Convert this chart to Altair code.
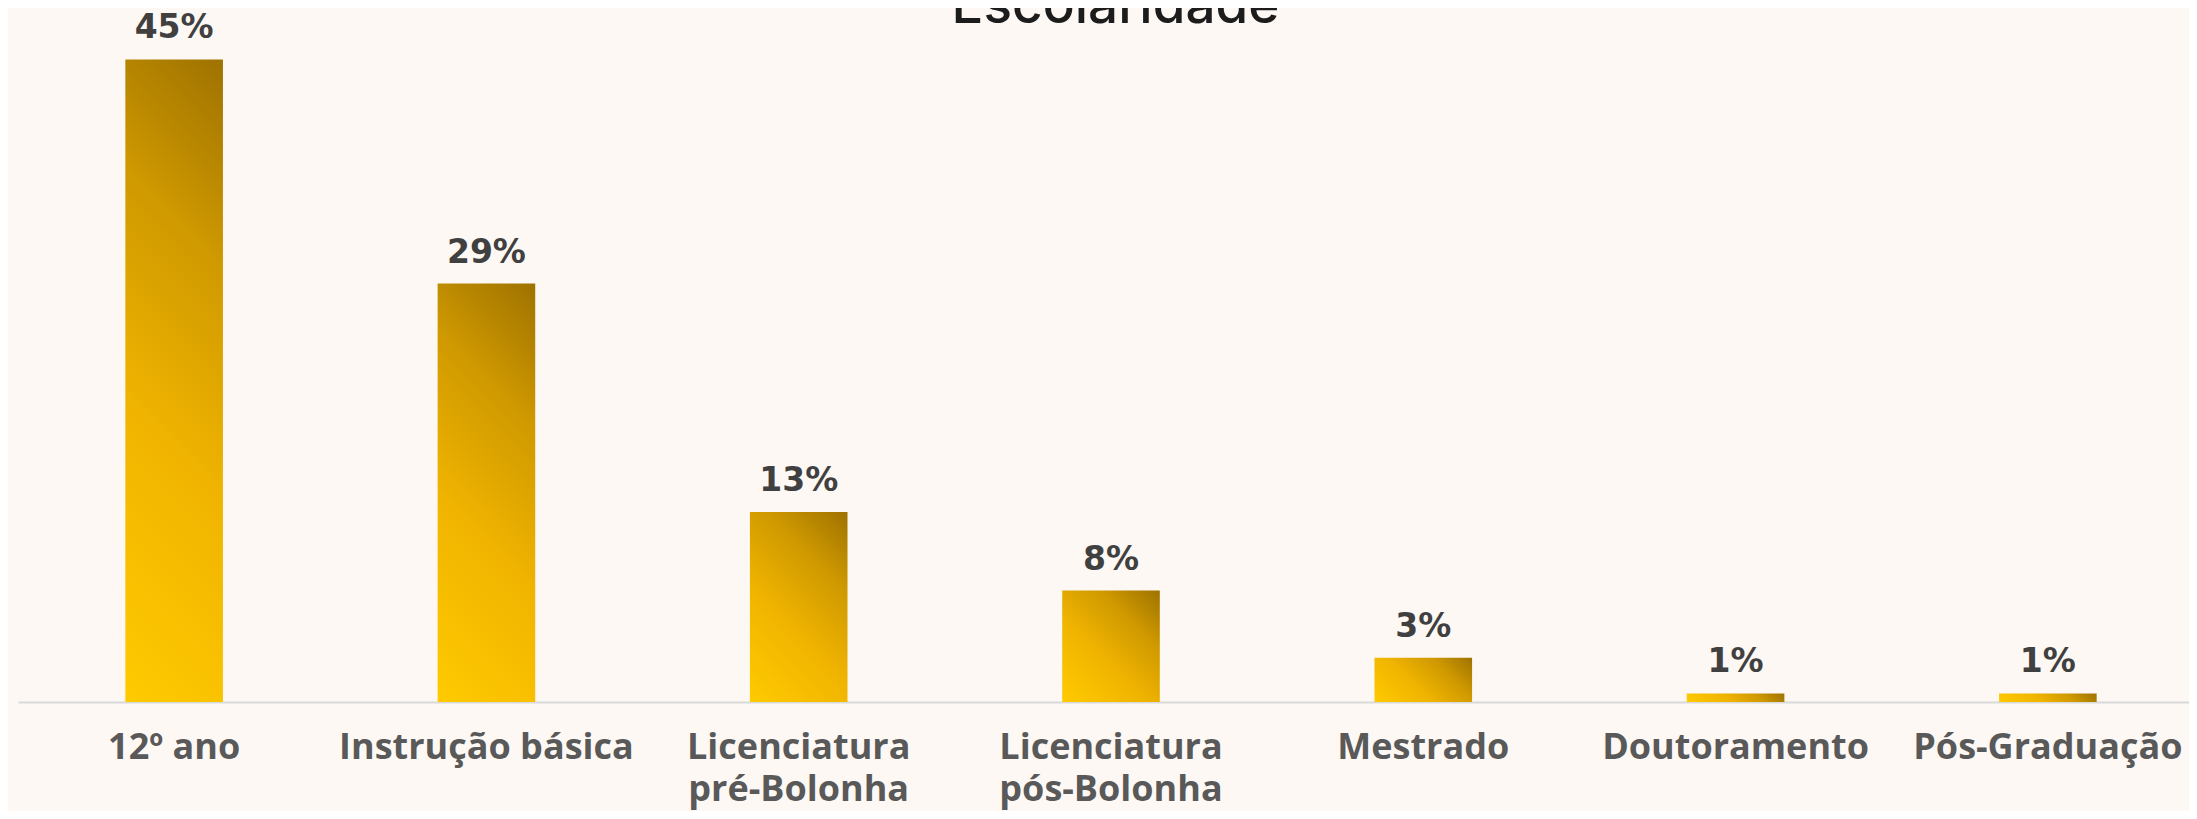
import altair as alt
import pandas as pd

categories = [
    "12º ano",
    "Instrução básica",
    "Licenciatura pré-Bolonha",
    "Licenciatura pós-Bolonha",
    "Mestrado",
    "Doutoramento",
    "Pós-Graduação",
]
shares = [0.450, 0.293, 0.133, 0.078, 0.031, 0.006, 0.006]

df = pd.DataFrame({"categoria": categories, "valor": shares})

Y_MAX = 0.472
PLOT_W, PLOT_H = 2171, 674
BAR_W = 97.6

# Gradient running diagonally (bottom-left bright -> top-right dark) at a fixed
# 45 degree angle in screen space, expressed in each bar's bounding-box units.
grad_expr = (
    "{gradient: 'linear', x1: 0, y1: 1, "
    f"x2: {BAR_W} * ({BAR_W} + datum.valor / {Y_MAX} * {PLOT_H}) / ({BAR_W} * {BAR_W} + pow(datum.valor / {Y_MAX} * {PLOT_H}, 2)), "
    f"y2: 1 - (datum.valor / {Y_MAX} * {PLOT_H}) * ({BAR_W} + datum.valor / {Y_MAX} * {PLOT_H}) / ({BAR_W} * {BAR_W} + pow(datum.valor / {Y_MAX} * {PLOT_H}, 2)), "
    "stops: [{offset: 0, color: '#FFCA00'}, {offset: 0.4, color: '#F0B400'}, "
    "{offset: 0.72, color: '#CF9900'}, {offset: 1, color: '#9E7200'}]}"
)

x = alt.X(
    "categoria:N",
    sort=categories,
    scale=alt.Scale(range=[0, 2186], paddingInner=0.6875, paddingOuter=0.34375),
    axis=alt.Axis(
        title=None,
        labelAngle=0,
        labelFont="Open Sans",
        labelFontWeight="bold",
        labelFontSize=36,
        labelColor="#595959",
        labelPadding=56,
        labelBaseline="alphabetic",
        labelLineHeight=42,
        labelLimit=500,
        labelOverlap=False,
        ticks=False,
        domainColor="#D9D9D9",
        domainWidth=2,
        grid=False,
        labelExpr="indexof(datum.label, 'Licenciatura ') == 0 ? ['Licenciatura', substring(datum.label, 13)] : datum.label",
    ),
)
y = alt.Y("valor:Q", scale=alt.Scale(domain=[0, Y_MAX]), axis=None)

bars = (
    alt.Chart(df)
    .transform_calculate(grad=grad_expr)
    .mark_bar()
    .encode(x=x, y=y, color=alt.Color("grad:N", scale=None))
)
labels = alt.Chart(df).mark_text(
    dy=-21,
    baseline="alphabetic",
    font="DejaVu Sans",
    fontWeight="bold",
    fontSize=33,
    color="#404040",
).encode(x=x, y=y, text=alt.Text("valor:Q", format=".0%"))

chart = (
    (bars + labels)
    .properties(
        width=PLOT_W,
        height=PLOT_H,
        title=alt.Title(
            "Escolaridade",
            font="Inter",
            fontSize=53,
            fontWeight=500,
            color="#1C1C1C",
            anchor="middle",
            baseline="alphabetic",
            offset=-64,
            dx=12,
        ),
        background="#FDF8F4",
        autosize=alt.AutoSizeParams(type="none"),
        padding={"left": 10, "top": 20, "right": 0, "bottom": 109},
    )
    .configure_view(stroke=None)
)

chart.save("out.html", embed_options={"renderer": "svg", "actions": False})
